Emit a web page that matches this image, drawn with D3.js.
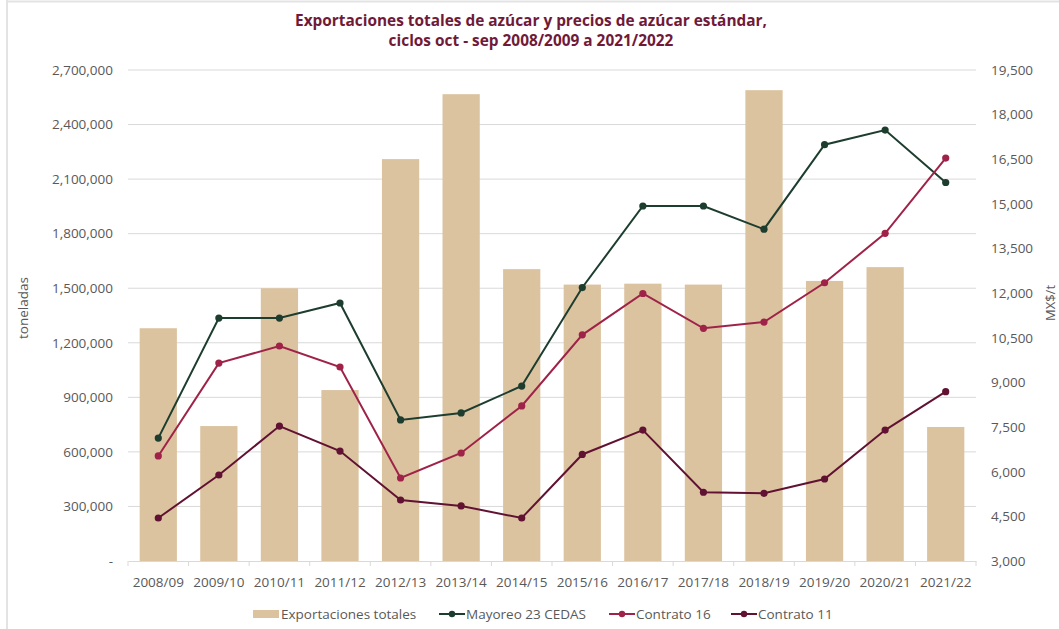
<!DOCTYPE html>
<html>
<head>
<meta charset="utf-8">
<script src="https://cdn.jsdelivr.net/npm/d3@7"></script>
<style>
  body { margin: 0; background: #fff; }
  svg { display: block; font-family: "Open Sans", sans-serif; }
</style>
</head>
<body>
<div id="chart"></div>
<script>
// data
const cycles = ["2008/09", "2009/10", "2010/11", "2011/12", "2012/13", "2013/14", "2014/15",
  "2015/16", "2016/17", "2017/18", "2018/19", "2019/20", "2020/21", "2021/22"];
const exportaciones = [1280000, 742000, 1500000, 940000, 2210000, 2567000, 1605000,
  1520000, 1525000, 1520000, 2589000, 1540000, 1616000, 737000];
const mayoreo = [7130, 11165, 11165, 11670, 7740, 7975, 8880, 12190, 14930, 14930, 14150, 16990, 17480, 15720];
const contrato16 = [6530, 9650, 10225, 9520, 5790, 6630, 8210, 10600, 11990, 10820, 11030, 12350, 14010, 16540];
const contrato11 = [4445, 5890, 7535, 6695, 5050, 4850, 4445, 6580, 7400, 5310, 5275, 5755, 7400, 8690];
const leftTicks = [0, 300000, 600000, 900000, 1200000, 1500000, 1800000, 2100000, 2400000, 2700000];
const rightTicks = [3000, 4500, 6000, 7500, 9000, 10500, 12000, 13500, 15000, 16500, 18000, 19500];

const W = 1059, H = 629;
const plot = { left: 128, right: 976, top: 70, bottom: 561 };
const fs = 13.5;

const svg = d3.select("#chart").append("svg").attr("width", W).attr("height", H);

// outer frame (only top and left edges are visible in the crop)
svg.append("line").attr("x1", 7).attr("x2", W).attr("y1", 1.5).attr("y2", 1.5)
  .attr("stroke", "#e3e3e3").attr("stroke-width", 2);
svg.append("line").attr("x1", 7).attr("x2", 7).attr("y1", 0).attr("y2", H)
  .attr("stroke", "#e3e3e3").attr("stroke-width", 2);

// title
const title = svg.append("text").attr("text-anchor", "middle")
  .attr("fill", "#6f1a38").attr("font-weight", "bold").attr("font-size", 15.4);
title.append("tspan").attr("x", 531).attr("y", 26).text("Exportaciones totales de azúcar y precios de azúcar estándar,");
title.append("tspan").attr("x", 531).attr("y", 46).text("ciclos oct - sep 2008/2009 a 2021/2022");

const x = d3.scaleBand().domain(cycles).range([plot.left, plot.right])
  .paddingInner(0.385).paddingOuter(0.1925);
const yL = d3.scaleLinear().domain([0, 2700000]).range([plot.bottom, plot.top]);
const yR = d3.scaleLinear().domain([3000, 19500]).range([plot.bottom, plot.top]);

// gridlines
svg.append("g").selectAll("line").data(leftTicks.slice(1)).join("line")
  .attr("x1", plot.left).attr("x2", plot.right)
  .attr("y1", d => yL(d)).attr("y2", d => yL(d))
  .attr("stroke", "#d9d9d9").attr("stroke-width", 1);

// left axis
const axL = svg.append("g").attr("transform", `translate(${plot.left - 15},0)`)
  .call(d3.axisLeft(yL).tickValues(leftTicks).tickSize(0).tickPadding(0)
    .tickFormat(d => d === 0 ? "-" : d3.format(",")(d)));
axL.select(".domain").remove();
axL.selectAll("text").attr("font-size", fs).attr("fill", "#595959").attr("font-family", "Open Sans, sans-serif");

// right axis
const axR = svg.append("g").attr("transform", `translate(${plot.right + 15},0)`)
  .call(d3.axisRight(yR).tickValues(rightTicks).tickSize(0).tickPadding(0)
    .tickFormat(d3.format(",")));
axR.select(".domain").remove();
axR.selectAll("text").attr("font-size", fs).attr("fill", "#595959").attr("font-family", "Open Sans, sans-serif");

// axis titles
svg.append("text").attr("transform", `translate(28,308) rotate(-90)`)
  .attr("text-anchor", "middle").attr("font-size", fs).attr("fill", "#595959").text("toneladas");
svg.append("text").attr("transform", `translate(1055,303) rotate(-90)`)
  .attr("text-anchor", "middle").attr("font-size", 13).attr("fill", "#595959").text("MX$/t");

// bars
svg.append("g").selectAll("rect").data(exportaciones).join("rect")
  .attr("x", (d, i) => x(cycles[i]))
  .attr("width", x.bandwidth())
  .attr("y", d => yL(d))
  .attr("height", d => yL(0) - yL(d))
  .attr("fill", "#dbc3a0");

// bottom axis
const axB = svg.append("g").attr("transform", `translate(0,${plot.bottom})`)
  .call(d3.axisBottom(x).tickSize(0).tickPadding(16));
axB.select(".domain").attr("stroke", "#d9d9d9");
axB.selectAll("text").attr("font-size", fs).attr("fill", "#595959").attr("font-family", "Open Sans, sans-serif");
const bounds = d3.range(cycles.length + 1).map(i => plot.left + x.step() * i);
axB.selectAll("line.sep").data(bounds).join("line").attr("class", "sep")
  .attr("x1", d => d).attr("x2", d => d).attr("y1", 0).attr("y2", 5)
  .attr("stroke", "#d9d9d9");

// price lines
const series = [
  { name: "Mayoreo 23 CEDAS", values: mayoreo, color: "#1d3d2f" },
  { name: "Contrato 16", values: contrato16, color: "#9f2348" },
  { name: "Contrato 11", values: contrato11, color: "#611232" }
];
const line = d3.line().x((d, i) => x(cycles[i]) + x.bandwidth() / 2).y(d => yR(d));
series.forEach(s => {
  const g = svg.append("g");
  g.append("path").attr("d", line(s.values)).attr("fill", "none")
    .attr("stroke", s.color).attr("stroke-width", 2);
  g.selectAll("circle").data(s.values).join("circle")
    .attr("cx", (d, i) => x(cycles[i]) + x.bandwidth() / 2)
    .attr("cy", d => yR(d)).attr("r", 3.6).attr("fill", s.color);
});

// legend
const legend = svg.append("g").attr("font-size", fs).attr("fill", "#595959");
const ly = 614;
legend.append("rect").attr("x", 253).attr("y", ly - 4).attr("width", 26).attr("height", 8).attr("fill", "#dbc3a0");
legend.append("text").attr("x", 281).attr("y", ly + 5).text("Exportaciones totales");
const lx = [439, 609, 731];
series.forEach((s, i) => {
  legend.append("line").attr("x1", lx[i]).attr("x2", lx[i] + 26).attr("y1", ly).attr("y2", ly)
    .attr("stroke", s.color).attr("stroke-width", 2);
  legend.append("circle").attr("cx", lx[i] + 13).attr("cy", ly).attr("r", 3.2).attr("fill", s.color);
  legend.append("text").attr("x", lx[i] + 27).attr("y", ly + 5).text(s.name);
});
</script>
</body>
</html>
